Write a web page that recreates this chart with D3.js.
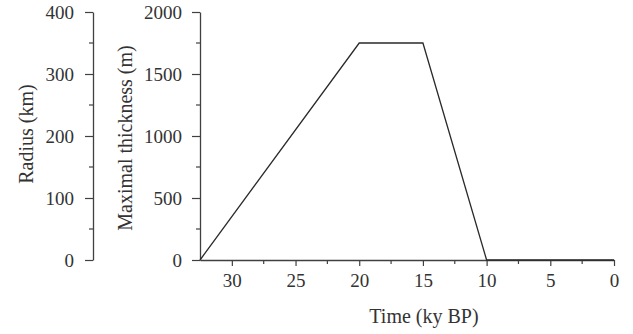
<!DOCTYPE html>
<html><head><meta charset="utf-8">
<script src="https://cdn.jsdelivr.net/npm/d3@7"></script>
<style>
body{margin:0;background:#fff;}
svg{display:block;font-family:"Liberation Serif","Times New Roman",serif;}
</style></head>
<body><svg id="c" width="633" height="334"></svg>
<script>
// Data
const timeKy = [32.5, 20, 15, 10, 0];
const thickness = [0, 1750, 1750, 0, 0];
const xTicks = [30, 25, 20, 15, 10, 5, 0];
const radiusTicks = [0, 100, 200, 300, 400];
const thickTicks = [0, 500, 1000, 1500, 2000];
const xLabel = "Time (ky BP)";
const radiusLabel = "Radius (km)";
const thickLabel = "Maximal thickness (m)";

const svg = d3.select("#c");
const axisColor = "#404040";
const x = d3.scaleLinear().domain([32.5, 0]).range([200, 614]);
const yR = d3.scaleLinear().domain([0, 400]).range([260, 12]);
const yT = d3.scaleLinear().domain([0, 2000]).range([260, 12]);
const tickFont = 19, labelFont = 20;
const fmt = d3.format("d");

function styleAxis(g){
  g.select(".domain").attr("stroke", axisColor).attr("stroke-width", 1.3);
  g.selectAll(".tick line").attr("stroke", axisColor).attr("stroke-width", 1.2);
  g.selectAll(".tick text").attr("fill", "#333").attr("font-size", tickFont).attr("font-family", "Liberation Serif");
}

// minor ticks
function minorY(scale, xpos, step, max){
  const vals = d3.range(step/2, max, step);
  svg.append("g").selectAll("line").data(vals).join("line")
    .attr("x1", xpos - 4).attr("x2", xpos)
    .attr("y1", d => scale(d)).attr("y2", d => scale(d))
    .attr("stroke", axisColor).attr("stroke-width", 1.2);
}

// Radius axis
const gR = svg.append("g").attr("transform", "translate(93,0)")
  .call(d3.axisLeft(yR).tickValues(radiusTicks).tickFormat(fmt).tickSize(8).tickPadding(11).tickSizeOuter(0));
styleAxis(gR);
minorY(yR, 93, 100, 400);

// Thickness axis
const gT = svg.append("g").attr("transform", "translate(200,0)")
  .call(d3.axisLeft(yT).tickValues(thickTicks).tickFormat(fmt).tickSize(8).tickPadding(10).tickSizeOuter(0));
styleAxis(gT);
minorY(yT, 200, 500, 2000);

// X axis
const gX = svg.append("g").attr("transform", "translate(0,260)")
  .call(d3.axisBottom(x).tickValues(xTicks).tickFormat(fmt).tickSize(6).tickPadding(8).tickSizeOuter(0));
styleAxis(gX);
const xMinor = d3.range(2.5, 32.5, 5);
svg.append("g").selectAll("line").data(xMinor).join("line")
  .attr("x1", d => x(d)).attr("x2", d => x(d))
  .attr("y1", 260).attr("y2", 264)
  .attr("stroke", axisColor).attr("stroke-width", 1.2);

// Line
const pts = timeKy.map((t, i) => [t, thickness[i]]);
svg.append("path").datum(pts)
  .attr("fill", "none").attr("stroke", "#2a2a2a").attr("stroke-width", 1.3)
  .attr("d", d3.line().x(d => x(d[0])).y(d => yT(d[1])));

// Labels
svg.append("text").attr("x", 424).attr("y", 323).attr("text-anchor", "middle")
  .attr("font-size", labelFont).attr("fill", "#333").text(xLabel);
svg.append("text").attr("transform", "translate(33,134) rotate(-90)").attr("text-anchor", "middle")
  .attr("font-size", labelFont).attr("fill", "#333").text(radiusLabel);
svg.append("text").attr("transform", "translate(132,138) rotate(-90)").attr("text-anchor", "middle")
  .attr("font-size", labelFont).attr("fill", "#333").text(thickLabel);
</script></body></html>
